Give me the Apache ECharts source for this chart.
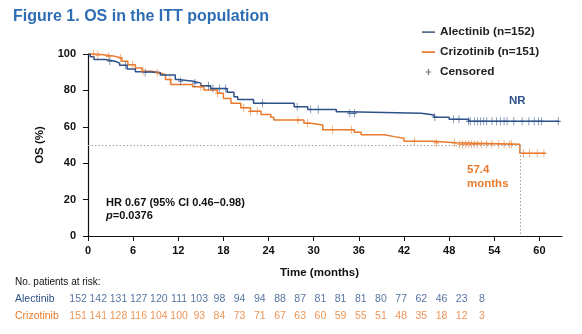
<!DOCTYPE html>
<html>
<head>
<meta charset="utf-8">
<script src="https://cdn.jsdelivr.net/npm/echarts@6/dist/echarts.min.js"></script>
<style>html,body{margin:0;padding:0;background:#fff}#c{width:582px;height:334px}</style>
</head>
<body>
<div id="c"></div>
<script>
// ---- data ----
const alectinibKM = [[0,100],[0.3,98.5],[0.8,97],[2.3,96],[3.6,95],[4.2,93.8],[5.2,91.8],[6.3,90.3],[7.4,89.8],[9.6,88.5],[11.6,86],[12,85],[14,84],[15,82.5],[16.3,81],[18.5,79],[19.4,76.5],[19.9,75],[22,73],[27.4,71],[29.2,69.5],[33,68.3],[34.5,67.4],[44.3,66.5],[46,65.3],[48,64.1],[50.6,63],[62.6,63]];
const crizotinibKM = [[0,100],[1.3,99.3],[2.5,98.7],[3.6,97.8],[4.5,96],[5.3,94.1],[6.3,92.3],[7.2,90.5],[8.5,89.6],[9.6,88.6],[10.3,86],[11,83.2],[13.9,82],[15.4,80.2],[17.2,78.4],[18,75.6],[19,73],[20.3,70.5],[21.6,68.5],[23,66.8],[24.3,65.2],[24.7,63.7],[28.7,62],[29.6,61],[31.2,58.4],[35.4,57],[36.3,55.6],[39.4,54.6],[40.7,53.7],[42,52],[46,51.2],[48.8,50.4],[57.4,45.5],[60.8,45.5]];
const alectinibCensored = [2.9,5.0,7.6,12.3,14.2,16,16.6,17.5,18.3,23.2,27.8,29.6,30.6,34.8,35.4,46.1,48.6,49.3,50.6,50.8,51.4,51.8,52.2,52.6,53,53.7,54.3,54.8,55.3,55.7,56.6,57.7,58.6,59.3,59.9,60.3,62.5];
const crizotinibCensored = [0.7,1.3,2.7,4.3,5.9,7.3,9.2,10.9,15,17.2,20.7,21.6,22.5,27.9,29.2,32.5,35,43.4,46.3,48.7,49.4,49.8,50.2,50.6,51,51.4,51.8,52.3,53,53.7,54.6,55.3,56,56.3,57.9,58.7,59.7,60.6];
const medianCrizotinib = 57.4;
const riskTimes = ['0','3','6','9','12','15','18','21','24','27','30','33','36','39','42','45','48','51','54','57','60'];
const alectinibRisk = [152,142,131,127,120,111,103,98,94,94,88,87,81,81,81,80,77,62,46,23,8];
const crizotinibRisk = [151,141,128,116,104,100,93,84,73,71,67,63,60,59,55,51,48,35,18,12,3];
const xTicks = [0,6,12,18,24,30,36,42,48,54,60];

// ---- styles ----
const BLUE = '#2d5189';
const ORANGE = '#ea7a2c';
const FONT = 'Liberation Sans, Arial, sans-serif';
const PLUS = 'path://M4.3,0H5.7V10H4.3ZM0,4.3H10V5.7H0Z';
const LEG_LINE = 'path://M0,0H0.01V0.01H0ZM0,5.3H13V6.9H0ZM13,12H12.99V11.99H13Z';
const LEG_PLUS = 'path://M0,0H0.01V0.01H0ZM5.9,3H7.1V9H5.9ZM3.8,5.4H9.2V6.6H3.8ZM13,12H12.99V11.99H13Z';

function survAt(km, t) {
  let v = km[0][1];
  for (const p of km) { if (p[0] <= t) v = p[1]; else break; }
  return v;
}

const chart = echarts.init(document.getElementById('c'), null, {renderer: 'canvas'});
const riskData = [];
alectinibRisk.forEach((v, i) => riskData.push({value: [i, 1, v], label: {color: BLUE}}));
crizotinibRisk.forEach((v, i) => riskData.push({value: [i, 0, v], label: {color: ORANGE}}));

chart.setOption({
  animation: false,
  textStyle: {fontFamily: FONT},
  title: {
    text: 'Figure 1. OS in the ITT population',
    left: 8, top: 4,
    textStyle: {fontSize: 16, fontWeight: 'bold', color: '#2f6db5', fontFamily: FONT}
  },
  legend: {
    orient: 'vertical', left: 417, top: 21, itemWidth: 13, itemHeight: 12, itemGap: 8,
    textStyle: {fontSize: 11.8, fontWeight: 'bold', color: '#222', fontFamily: FONT},
    data: [
      {name: 'Alectinib (n=152)', icon: LEG_LINE, itemStyle: {color: '#5a6f91'}},
      {name: 'Crizotinib (n=151)', icon: LEG_LINE, itemStyle: {color: ORANGE}},
      {name: 'Censored', icon: LEG_PLUS, itemStyle: {color: '#555'}}
    ]
  },
  grid: [
    {left: 88, right: 20, top: 54, bottom: 98},
    {left: 68, width: 424, top: 291, height: 34}
  ],
  xAxis: [
    {
      type: 'value', gridIndex: 0, min: 0, max: 63, interval: 6,
      axisLine: {lineStyle: {color: '#111', width: 1.2}},
      axisTick: {show: true, length: 5, lineStyle: {color: '#111'}, customValues: xTicks},
      axisLabel: {fontSize: 11, fontWeight: 'bold', color: '#111', margin: 9, customValues: xTicks},
      splitLine: {show: false}
    },
    {
      type: 'category', gridIndex: 1, data: riskTimes, boundaryGap: true,
      axisLine: {show: false}, axisTick: {show: false}, axisLabel: {show: false}, splitLine: {show: false}
    }
  ],
  yAxis: [
    {
      type: 'value', gridIndex: 0, min: 0, max: 100, interval: 20,
      name: 'OS (%)', nameLocation: 'middle', nameGap: 42,
      nameTextStyle: {fontSize: 11.5, fontWeight: 'bold', color: '#111'},
      axisLine: {show: true, lineStyle: {color: '#111', width: 1.2}},
      axisTick: {show: true, length: 5, lineStyle: {color: '#111'}},
      axisLabel: {fontSize: 11, fontWeight: 'bold', color: '#111', margin: 12},
      splitLine: {show: false}
    },
    {
      type: 'category', gridIndex: 1, data: ['Crizotinib', 'Alectinib'], boundaryGap: true,
      axisLine: {show: false}, axisTick: {show: false}, splitLine: {show: false},
      axisLabel: {
        show: true, align: 'left', margin: 53, fontSize: 10.5,
        color: (v) => v === 'Alectinib' ? BLUE : ORANGE
      }
    }
  ],
  series: [
    {
      name: 'Alectinib (n=152)', type: 'line', step: 'end', data: alectinibKM,
      xAxisIndex: 0, yAxisIndex: 0, symbol: 'none', color: BLUE,
      lineStyle: {color: BLUE, width: 1.5}, z: 3
    },
    {
      name: 'Crizotinib (n=151)', type: 'line', step: 'end', data: crizotinibKM,
      xAxisIndex: 0, yAxisIndex: 0, symbol: 'none', color: ORANGE,
      lineStyle: {color: ORANGE, width: 1.5}, z: 2,
      markLine: {
        silent: true, symbol: 'none', label: {show: false},
        lineStyle: {color: '#a0a0a0', type: [1.5, 2], width: 1},
        data: [
          [{coord: [0, 50]}, {coord: [medianCrizotinib, 50]}],
          [{coord: [medianCrizotinib, 50]}, {coord: [medianCrizotinib, 0]}]
        ]
      }
    },
    {
      name: 'alectinib-censored', type: 'scatter', xAxisIndex: 0, yAxisIndex: 0,
      symbol: PLUS, symbolSize: [5, 8], itemStyle: {color: BLUE}, z: 4,
      data: alectinibCensored.map(t => [t, survAt(alectinibKM, t)])
    },
    {
      name: 'crizotinib-censored', type: 'scatter', xAxisIndex: 0, yAxisIndex: 0,
      symbol: PLUS, symbolSize: [5, 8], itemStyle: {color: ORANGE}, z: 4,
      data: crizotinibCensored.map(t => [t, survAt(crizotinibKM, t)])
    },
    {
      name: 'Censored', type: 'scatter', xAxisIndex: 0, yAxisIndex: 0, data: [],
      symbol: PLUS, itemStyle: {color: '#555'}
    },
    {
      name: 'risk', type: 'scatter', xAxisIndex: 1, yAxisIndex: 1, symbolSize: 0,
      data: riskData,
      label: {show: true, position: 'inside', formatter: p => String(p.value[2]), fontSize: 10.5}
    }
  ],
  graphic: [
    {type: 'text', left: 280, top: 267, style: {text: 'Time (months)', font: 'bold 11.5px ' + FONT, fill: '#111', textAlign: 'center'}},
    {type: 'text', left: 15, top: 277, style: {text: 'No. patients at risk:', font: '10px ' + FONT, fill: '#111'}},
    {type: 'text', left: 106, top: 197, style: {text: 'HR 0.67 (95% CI 0.46\u20130.98)', font: 'bold 11px ' + FONT, fill: '#111'}},
    {type: 'text', left: 106, top: 210, style: {rich: {i: {fontStyle: 'italic', fontWeight: 'bold', fontSize: 11, fontFamily: FONT, fill: '#111'}, n: {fontWeight: 'bold', fontSize: 11, fontFamily: FONT, fill: '#111'}}, text: '{i|p}{n|=0.0376}'}},
    {type: 'text', left: 467, top: 163, style: {text: '57.4\nmonths', font: 'bold 11.5px ' + FONT, fill: ORANGE, lineHeight: 14}},
    {type: 'text', left: 509, top: 95, style: {text: 'NR', font: 'bold 11.5px ' + FONT, fill: BLUE}}
  ]
});
</script>
</body>
</html>
